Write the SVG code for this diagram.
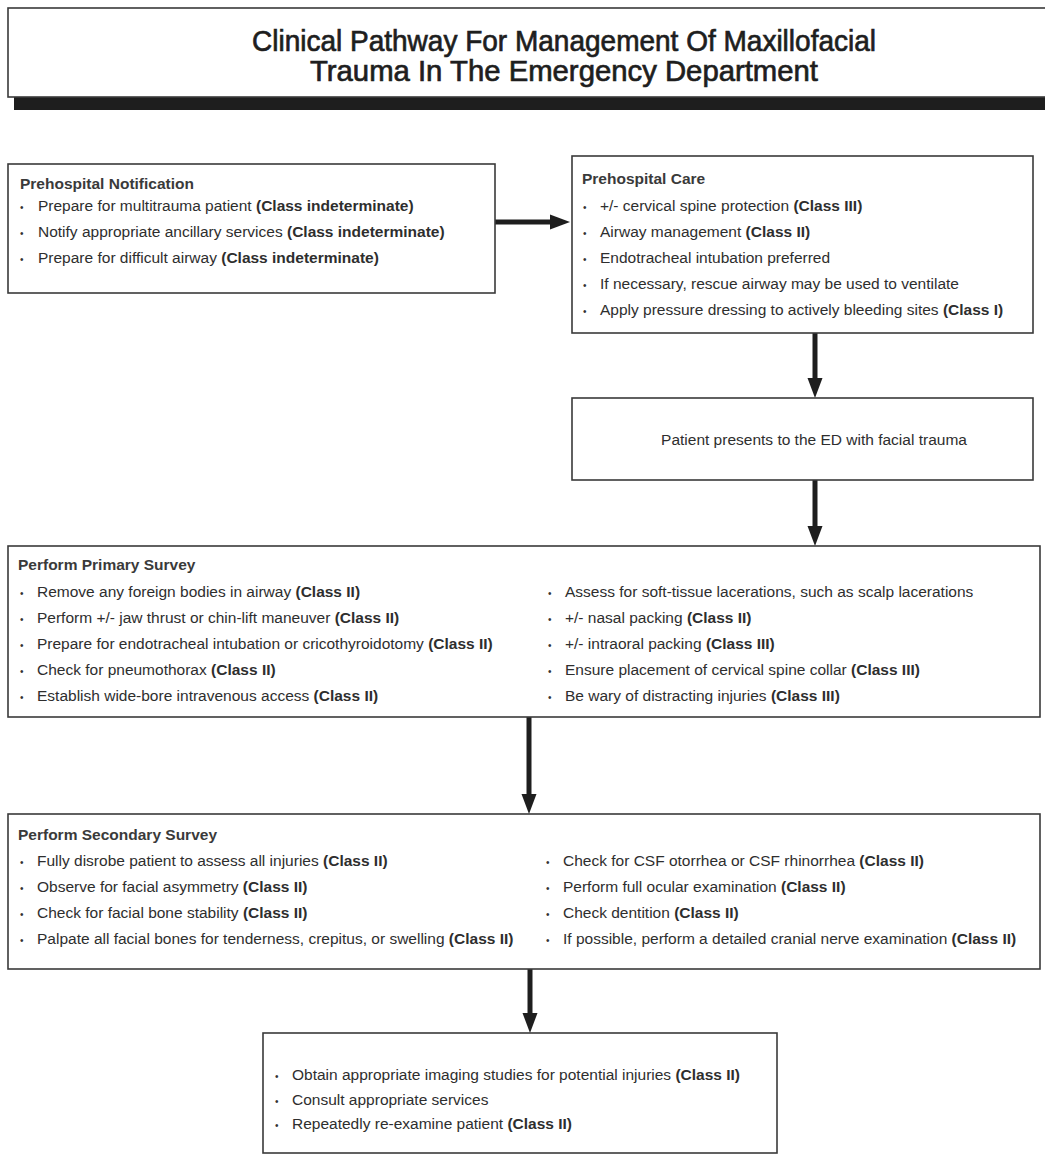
<svg xmlns="http://www.w3.org/2000/svg" width="1045" height="1156" viewBox="0 0 1045 1156">
<style>
.box{fill:#fff;stroke:#3a3a3a;stroke-width:1.6}
.t{font-family:"Liberation Sans",Arial,sans-serif;font-size:15.5px;fill:#2e2e2e}
.h{font-family:"Liberation Sans",Arial,sans-serif;font-size:15.5px;font-weight:bold;fill:#3a3a3a}
.b{font-weight:bold}
.dot{font-family:"Liberation Sans",Arial,sans-serif;font-size:10px;fill:#333}
.title{font-family:"Liberation Sans",Arial,sans-serif;font-size:30px;fill:#1e1e1e;stroke:#1e1e1e;stroke-width:0.7}
.conn{stroke:#1e1e1e;stroke-width:5;fill:none}
.head{fill:#1e1e1e}
</style>
<rect width="1045" height="1156" fill="#fff"/>
<g id="title">
<rect x="14" y="96" width="1040" height="14" fill="#1e1e1e"/>
<rect class="box" x="8" y="8" width="1050" height="89"/>
<text class="title" x="564" y="51" text-anchor="middle" textLength="624" lengthAdjust="spacingAndGlyphs">Clinical Pathway For Management Of Maxillofacial</text>
<text class="title" x="564" y="81" text-anchor="middle" textLength="508" lengthAdjust="spacingAndGlyphs">Trauma In The Emergency Department</text>
</g>
<g id="connectors">
<line class="conn" x1="495" y1="222" x2="552" y2="222"/>
<polygon class="head" points="570,222 550,214.5 550,229.5"/>
<line class="conn" x1="815" y1="333" x2="815" y2="380"/>
<polygon class="head" points="815,398 807.5,378 822.5,378"/>
<line class="conn" x1="815" y1="480" x2="815" y2="528"/>
<polygon class="head" points="815,546 807.5,526 822.5,526"/>
<line class="conn" x1="529" y1="717" x2="529" y2="796"/>
<polygon class="head" points="529,814 521.5,794 536.5,794"/>
<line class="conn" x1="530" y1="969" x2="530" y2="1015"/>
<polygon class="head" points="530,1033 522.5,1013 537.5,1013"/>
</g>
<g id="prehospital-notification">
<rect class="box" x="8" y="164" width="487" height="129"/>
<text class="h" x="20" y="189">Prehospital Notification</text>
<text class="dot" x="20" y="210.5">•</text><text class="t" x="38" y="211">Prepare for multitrauma patient <tspan class="b">(Class indeterminate)</tspan></text>
<text class="dot" x="20" y="236.5">•</text><text class="t" x="38" y="237">Notify appropriate ancillary services <tspan class="b">(Class indeterminate)</tspan></text>
<text class="dot" x="20" y="262.5">•</text><text class="t" x="38" y="263">Prepare for difficult airway <tspan class="b">(Class indeterminate)</tspan></text>
</g>
<g id="prehospital-care">
<rect class="box" x="572" y="156" width="461" height="177"/>
<text class="h" x="582" y="184">Prehospital Care</text>
<text class="dot" x="583" y="210.5">•</text><text class="t" x="600" y="211">+/- cervical spine protection <tspan class="b">(Class III)</tspan></text>
<text class="dot" x="583" y="236.5">•</text><text class="t" x="600" y="237">Airway management <tspan class="b">(Class II)</tspan></text>
<text class="dot" x="583" y="262.5">•</text><text class="t" x="600" y="263">Endotracheal intubation preferred</text>
<text class="dot" x="583" y="288.5">•</text><text class="t" x="600" y="289">If necessary, rescue airway may be used to ventilate</text>
<text class="dot" x="583" y="314.5">•</text><text class="t" x="600" y="315">Apply pressure dressing to actively bleeding sites <tspan class="b">(Class I)</tspan></text>
</g>
<g id="patient-presents">
<rect class="box" x="572" y="398" width="461" height="82"/>
<text class="t" x="814" y="445" text-anchor="middle">Patient presents to the ED with facial trauma</text>
</g>
<g id="primary-survey">
<rect class="box" x="8" y="546" width="1032" height="171"/>
<text class="h" x="18" y="570">Perform Primary Survey</text>
<text class="dot" x="20" y="596.5">•</text><text class="t" x="37" y="597">Remove any foreign bodies in airway <tspan class="b">(Class II)</tspan></text>
<text class="dot" x="20" y="622.5">•</text><text class="t" x="37" y="623">Perform +/- jaw thrust or chin-lift maneuver <tspan class="b">(Class II)</tspan></text>
<text class="dot" x="20" y="648.5">•</text><text class="t" x="37" y="649">Prepare for endotracheal intubation or cricothyroidotomy <tspan class="b">(Class II)</tspan></text>
<text class="dot" x="20" y="674.5">•</text><text class="t" x="37" y="675">Check for pneumothorax <tspan class="b">(Class II)</tspan></text>
<text class="dot" x="20" y="700.5">•</text><text class="t" x="37" y="701">Establish wide-bore intravenous access <tspan class="b">(Class II)</tspan></text>
<text class="dot" x="548" y="596.5">•</text><text class="t" x="565" y="597">Assess for soft-tissue lacerations, such as scalp lacerations</text>
<text class="dot" x="548" y="622.5">•</text><text class="t" x="565" y="623">+/- nasal packing <tspan class="b">(Class II)</tspan></text>
<text class="dot" x="548" y="648.5">•</text><text class="t" x="565" y="649">+/- intraoral packing <tspan class="b">(Class III)</tspan></text>
<text class="dot" x="548" y="674.5">•</text><text class="t" x="565" y="675">Ensure placement of cervical spine collar <tspan class="b">(Class III)</tspan></text>
<text class="dot" x="548" y="700.5">•</text><text class="t" x="565" y="701">Be wary of distracting injuries <tspan class="b">(Class III)</tspan></text>
</g>
<g id="secondary-survey">
<rect class="box" x="8" y="814" width="1032" height="155"/>
<text class="h" x="18" y="840">Perform Secondary Survey</text>
<text class="dot" x="20" y="865.5">•</text><text class="t" x="37" y="866">Fully disrobe patient to assess all injuries <tspan class="b">(Class II)</tspan></text>
<text class="dot" x="20" y="891.5">•</text><text class="t" x="37" y="892">Observe for facial asymmetry <tspan class="b">(Class II)</tspan></text>
<text class="dot" x="20" y="917.5">•</text><text class="t" x="37" y="918">Check for facial bone stability <tspan class="b">(Class II)</tspan></text>
<text class="dot" x="20" y="943.5">•</text><text class="t" x="37" y="944">Palpate all facial bones for tenderness, crepitus, or swelling <tspan class="b">(Class II)</tspan></text>
<text class="dot" x="546" y="865.5">•</text><text class="t" x="563" y="866">Check for CSF otorrhea or CSF rhinorrhea <tspan class="b">(Class II)</tspan></text>
<text class="dot" x="546" y="891.5">•</text><text class="t" x="563" y="892">Perform full ocular examination <tspan class="b">(Class II)</tspan></text>
<text class="dot" x="546" y="917.5">•</text><text class="t" x="563" y="918">Check dentition <tspan class="b">(Class II)</tspan></text>
<text class="dot" x="546" y="943.5">•</text><text class="t" x="563" y="944">If possible, perform a detailed cranial nerve examination <tspan class="b">(Class II)</tspan></text>
</g>
<g id="final-steps">
<rect class="box" x="263" y="1033" width="514" height="120"/>
<text class="dot" x="275" y="1079.5">•</text><text class="t" x="292" y="1080">Obtain appropriate imaging studies for potential injuries <tspan class="b">(Class II)</tspan></text>
<text class="dot" x="275" y="1104.5">•</text><text class="t" x="292" y="1105">Consult appropriate services</text>
<text class="dot" x="275" y="1128.5">•</text><text class="t" x="292" y="1129">Repeatedly re-examine patient <tspan class="b">(Class II)</tspan></text>
</g>
</svg>
